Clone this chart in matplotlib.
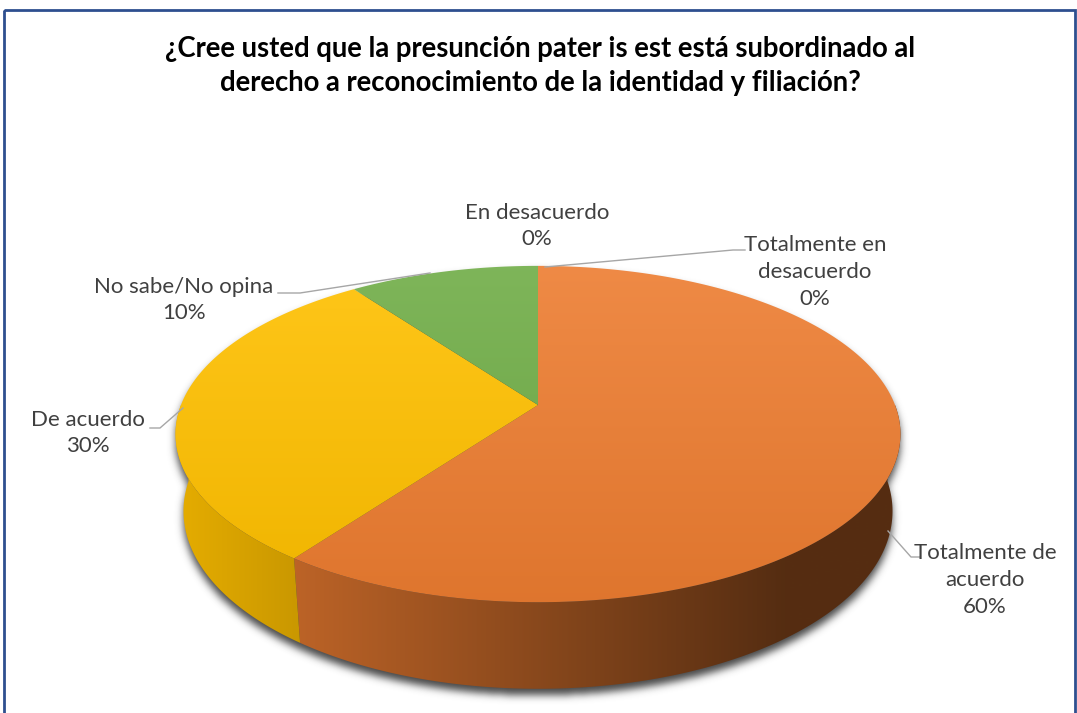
import numpy as np
import matplotlib.pyplot as plt
from matplotlib.colors import to_rgb
from matplotlib.patches import Polygon, Rectangle
from matplotlib.path import Path

plt.rcParams["font.family"] = ["Lato", "DejaVu Sans"]

# data
labels = ["Totalmente de\nacuerdo", "De acuerdo", "No sabe/No opina",
          "En desacuerdo", "Totalmente en\ndesacuerdo"]
values = [60, 30, 10, 0, 0]
colors = ["#ED7D31", "#FFC000", "#70AD47", "#4472C4", "#A5A5A5"]
title = ("¿Cree usted que la presunción pater is est está subordinado al\n"
         "derecho a reconocimiento de la identidad y filiación?")

# label placement (pixels) and leader lines
label_pos = [(985, 580), (88, 433), (184, 300), (537, 226), (815, 272)]
leaders = [
    [(920, 557), (911, 557), (888, 531)],
    [(150, 428), (160, 428), (183, 408)],
    [(278, 293), (300, 293), (430, 273)],
    None,
    [(745, 250), (733, 250), (545, 267)],
]

W, H = 1077, 713
# simple perspective camera for the 3-D pie
cx, cy0 = 538, 405
sin_e = 0.457
cos_e = np.sqrt(1 - sin_e ** 2)
D = 5.15
f = 1838.6
h = 0.245

fig = plt.figure(figsize=(W / 100, H / 100), dpi=100)
ax = fig.add_axes([0, 0, 1, 1])
ax.set_xlim(0, W)
ax.set_ylim(H, 0)
ax.axis("off")


def rim(t, depth=0.0):
    t = np.radians(np.atleast_1d(t))
    X, Y = np.cos(t), np.sin(t)
    v = Y * sin_e - depth * cos_e
    z = D + Y * cos_e + depth * sin_e
    return np.column_stack([cx + f * X / z, cy0 - f * v / z])


def gradient_fill(poly_xy, color_fn, z):
    x0, y0 = poly_xy.min(axis=0) - 1
    x1, y1 = poly_xy.max(axis=0) + 1
    nx, ny = int(x1 - x0) + 2, int(y1 - y0) + 2
    X, Y = np.meshgrid(np.linspace(x0, x1, nx), np.linspace(y0, y1, ny))
    im = ax.imshow(color_fn(X, Y), extent=(x0, x1, y1, y0), origin="upper",
                   aspect="auto", zorder=z, interpolation="bilinear")
    patch = Polygon(poly_xy, closed=True, facecolor="none", edgecolor="none")
    ax.add_patch(patch)
    im.set_clip_path(patch)


full = np.linspace(0, 360, 361)
front = np.linspace(0, -180, 181)
top_ring = rim(full)
bot_ring = rim(full, h)
side_ring = np.vstack([rim(front), rim(front[::-1], h)])

# shadow under the pie
GX, GY = np.meshgrid(np.arange(W), np.arange(H))
pts = np.column_stack([GX.ravel() + 0.5, GY.ravel() - 6.0])
mask = np.zeros(W * H, dtype=bool)
for ring in (top_ring, bot_ring, side_ring):
    mask |= Path(ring).contains_points(pts)
mask = mask.reshape(H, W).astype(float)
k = np.exp(-0.5 * (np.arange(-15, 16) / 4.0) ** 2)
k /= k.sum()
mask = np.apply_along_axis(lambda r: np.convolve(r, k, mode="same"), 1, mask)
mask = np.apply_along_axis(lambda r: np.convolve(r, k, mode="same"), 0, mask)
shadow = np.zeros((H, W, 4))
shadow[..., :3] = 0.2
shadow[..., 3] = 0.9 * mask
ax.imshow(shadow, extent=(0, W, H, 0), origin="upper", aspect="auto", zorder=1)

total = float(sum(values))
starts, ends = [], []
acc = 0.0
for v in values:
    starts.append(90 - 360 * acc / total)
    acc += v
    ends.append(90 - 360 * acc / total)

# side walls (front half only)
for v, c, t0, t1 in zip(values, colors, starts, ends):
    if v <= 0:
        continue
    lo, hi = max(t1, -180), min(t0, 0)
    if lo >= hi:
        continue
    ts = np.linspace(hi, lo, 150)
    poly = np.vstack([rim(ts), rim(ts[::-1], h)])

    def side_fn(X, Y, c=c):
        k_ = np.clip(0.9 - 0.55 * (X - 175) / 620, 0.36, 0.92)
        base = np.asarray(to_rgb(c))
        return np.clip(base[None, None, :] * k_[..., None], 0, 1)

    gradient_fill(poly, side_fn, 2)

# top faces
apex = (cx, cy0)
for v, c, t0, t1 in zip(values, colors, starts, ends):
    if v <= 0:
        continue
    ts = np.linspace(t0, t1, 240)
    poly = np.vstack([[apex], rim(ts)])

    def top_fn(X, Y, c=c):
        base = np.asarray(to_rgb(c))
        s = np.clip((Y - 266) / 336, 0, 1)
        light = (0.1 - 0.1 * s)[..., None]
        dark = (0.06 * s)[..., None]
        col = base + (1 - base) * light
        return np.clip(col * (1 - dark), 0, 1)

    gradient_fill(poly, top_fn, 3)

# data labels
for lab, v, (lx, ly), ld in zip(labels, values, label_pos, leaders):
    pct = f"{v / total * 100:.0f}%"
    ax.text(lx, ly, f"{lab}\n{pct}", ha="center", va="center", fontsize=16,
            color="#404040", linespacing=1.42, zorder=5)
    if ld is not None:
        p = np.array(ld)
        ax.plot(p[:, 0], p[:, 1], color="#A6A6A6", lw=1, zorder=4)

ax.text(540, 66, title, ha="center", va="center", fontsize=19.8,
        fontweight="bold", color="#000000", linespacing=1.42, zorder=5)

ax.add_patch(Rectangle((4, 10), 1071, 720, facecolor="none",
                       edgecolor="#2E4F8F", lw=2, zorder=6))
ax.set_xlim(0, W)
ax.set_ylim(H, 0)

fig.savefig("out.png", dpi=100)
